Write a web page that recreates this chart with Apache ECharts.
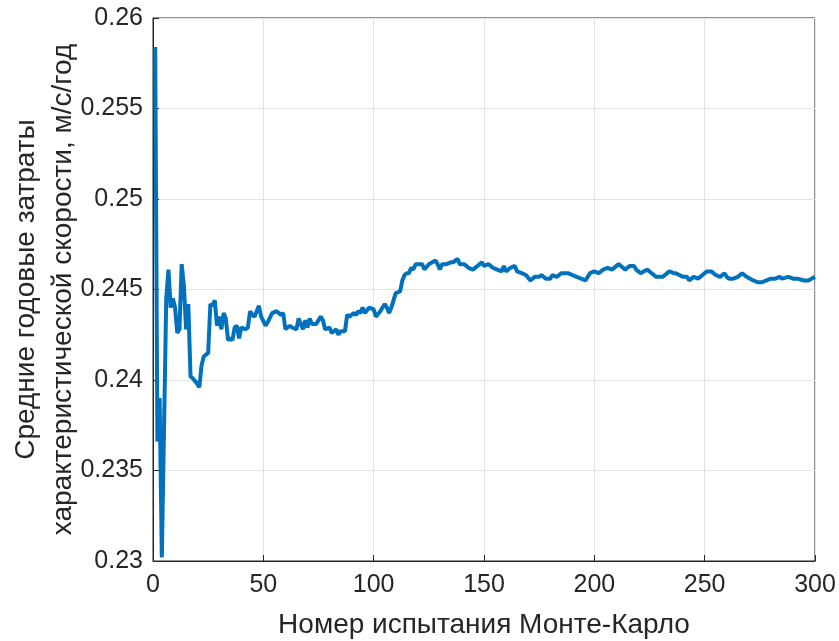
<!DOCTYPE html>
<html>
<head>
<meta charset="utf-8">
<script src="https://cdn.jsdelivr.net/npm/echarts@6/dist/echarts.min.js"></script>
<style>
    html, body { margin: 0; padding: 0; background: #fff; }
    #chart { width: 839px; height: 641px; }
</style>
</head>
<body>
<div id="chart"></div>
<script>
// номер испытания и среднее значение затрат
var trialNo = [1, 2, 3, 4, 6, 7, 8, 9, 10, 11, 12, 13, 14, 15, 16, 17, 18, 20, 21, 22, 23, 25,
    26, 27, 28, 29, 30, 31, 32, 33, 34, 35, 36, 37, 38, 39, 40, 42, 43, 44, 45, 46, 48, 49,
    51, 52, 54, 56, 58, 59, 60, 62, 63, 65, 66, 67, 68, 69, 70, 71, 72, 74, 76, 77, 78, 80,
    81, 83, 84, 85, 87, 88, 89, 91, 92, 93, 94, 95, 96, 98, 100, 101, 103, 105, 106, 107, 108,
    110, 112, 113, 114, 115, 116, 117, 118, 119, 122, 123, 125, 128, 129, 130, 131, 133, 135,
    136, 138, 139, 141, 143, 145, 147, 149, 150, 152, 154, 156, 158, 159, 160, 162, 164, 165,
    167, 169, 171, 173, 175, 176, 178, 180, 181, 183, 185, 188, 192, 194, 196, 198, 200, 202,
    204, 206, 208, 211, 213, 214, 216, 218, 219, 221, 224, 226, 228, 229, 231, 232, 234, 236,
    237, 240, 242, 243, 245, 247, 249, 251, 253, 255, 257, 259, 260, 261, 263, 265, 267, 269,
    272, 274, 276, 278, 280, 282, 284, 285, 288, 290, 292, 295, 297, 300];
var avgCost = [0.2584, 0.2366, 0.2390, 0.2302, 0.2445, 0.2461, 0.2440, 0.2445, 0.2440, 0.2426,
    0.2428, 0.2464, 0.2452, 0.2428, 0.2442, 0.2402, 0.2401, 0.2398, 0.2396, 0.2408, 0.2413, 0.2415,
    0.2442, 0.2441, 0.2444, 0.2430, 0.2435, 0.2428, 0.2437, 0.2434, 0.2422, 0.2423, 0.2422, 0.2429,
    0.2430, 0.2423, 0.2429, 0.2428, 0.2429, 0.2438, 0.2436, 0.2435, 0.2441, 0.2435,
    0.2430, 0.2432, 0.2437, 0.2438, 0.2436, 0.2437, 0.2428, 0.2430, 0.2429, 0.2428, 0.2434, 0.2431,
    0.2428, 0.2433, 0.2429, 0.2434, 0.2431, 0.2431, 0.2435, 0.2433, 0.2428, 0.2429,
    0.2426, 0.2428, 0.2425, 0.2427, 0.2427, 0.2436, 0.2435, 0.2437, 0.2436, 0.2438, 0.2437, 0.2440,
    0.2437, 0.2440, 0.2439, 0.2435, 0.2438, 0.2442, 0.2440, 0.2437, 0.2440,
    0.2448, 0.2449, 0.2455, 0.2458, 0.2459, 0.2459, 0.2462, 0.2461, 0.2464, 0.2464, 0.2461, 0.2464,
    0.2466, 0.2464, 0.2461, 0.2464, 0.2464, 0.2465,
    0.2465, 0.2467, 0.2464, 0.2464, 0.2462, 0.2461, 0.2463, 0.2465, 0.2463, 0.2464, 0.2462, 0.2461,
    0.2460, 0.2463, 0.2460, 0.2462, 0.2463, 0.2460,
    0.2459, 0.2458, 0.2455, 0.2457, 0.2457, 0.2458, 0.2456, 0.2456, 0.2458, 0.2457, 0.2459, 0.2459,
    0.2457, 0.2456, 0.2455, 0.2459, 0.2460, 0.2459,
    0.2461, 0.2462, 0.2461, 0.2464, 0.2462, 0.2461, 0.2463, 0.2463, 0.2461, 0.2459, 0.2461, 0.2459,
    0.2457, 0.2457, 0.2457, 0.2458, 0.2460, 0.2459,
    0.2459, 0.2457, 0.2457, 0.2455, 0.2457, 0.2456, 0.2458, 0.2460, 0.2460, 0.2458, 0.2457, 0.2459,
    0.2457, 0.2456, 0.2456, 0.2457, 0.2459, 0.2457,
    0.2455, 0.2454, 0.2454, 0.2455, 0.2456, 0.2456, 0.2457, 0.2456, 0.2457, 0.2456, 0.2456, 0.2455,
    0.2455, 0.2457];

var xTicks = [0, 50, 100, 150, 200, 250, 300];
var yTicks = [0.23, 0.235, 0.24, 0.245, 0.25, 0.255, 0.26];

var points = [];
for (var i = 0; i < trialNo.length; i++) {
    points.push([trialNo[i], avgCost[i]]);
}

var font = 'Liberation Sans';
var textColor = '#262626';

var chart = echarts.init(document.getElementById('chart'));

var option = {
    animation: false,
    grid: {
        left: 153,
        right: 24,
        top: 18,
        bottom: 80,
        outerBoundsMode: 'none',
        containLabel: false,
        show: true,
        borderColor: textColor,
        borderWidth: 1
    },
    xAxis: {
        type: 'value',
        min: xTicks[0],
        max: xTicks[xTicks.length - 1],
        interval: 50,
        name: 'Номер испытания Монте-Карло',
        nameLocation: 'middle',
        nameGap: 50,
        nameMoveOverlap: false,
        nameTextStyle: { fontFamily: font, fontSize: 28, color: textColor },
        axisLine: { show: true, lineStyle: { color: textColor } },
        axisTick: { show: true, inside: true, length: 6, lineStyle: { color: textColor } },
        axisLabel: {
            fontFamily: font, fontSize: 25, color: textColor, margin: 12,
            formatter: function (val) { return val; }
        },
        splitLine: { show: true, lineStyle: { color: '#e3e3e3' } }
    },
    yAxis: {
        type: 'value',
        min: yTicks[0],
        max: yTicks[yTicks.length - 1],
        interval: 0.005,
        name: 'Средние годовые затраты\nхарактеристической скорости, м/с/год',
        nameLocation: 'middle',
        nameGap: 71,
        nameMoveOverlap: false,
        nameTextStyle: { fontFamily: font, fontSize: 28, color: textColor, lineHeight: 37 },
        axisLine: { show: true, lineStyle: { color: textColor } },
        axisTick: { show: true, inside: true, length: 6, lineStyle: { color: textColor } },
        axisLabel: {
            fontFamily: font, fontSize: 25, color: textColor, margin: 10,
            formatter: function (val) { return +val.toFixed(3); }
        },
        splitLine: { show: true, lineStyle: { color: '#e3e3e3' } }
    },
    series: [{
        type: 'line',
        data: points,
        showSymbol: false,
        symbol: 'none',
        lineStyle: { color: '#0072BD', width: 4 }
    }]
};
chart.setOption(option);
</script>
</body>
</html>
